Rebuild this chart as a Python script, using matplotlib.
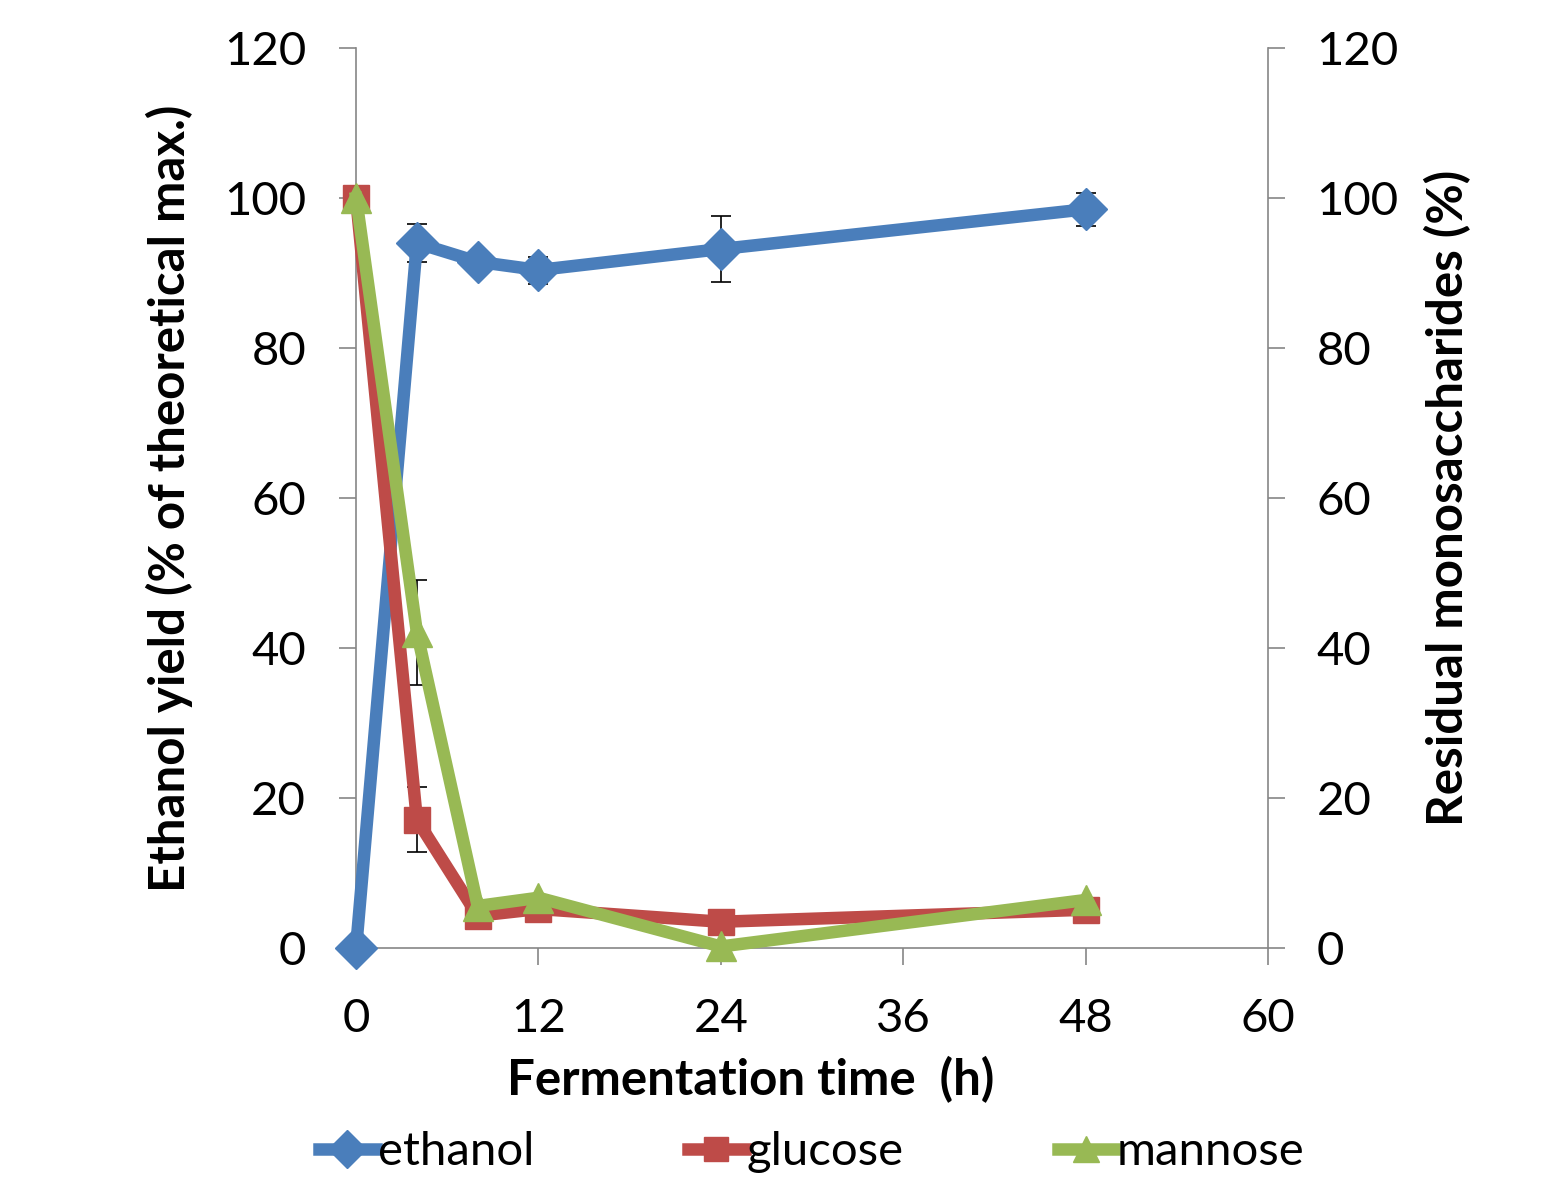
import matplotlib.pyplot as plt

# data
time_h = [0, 4, 8, 12, 24, 48]
ethanol = [0, 94.0, 91.5, 90.4, 93.2, 98.5]
ethanol_err = [0, 2.5, 0, 1.8, 4.4, 2.2]
glucose = [100, 17.1, 4.3, 5.2, 3.5, 5.1]
glucose_err = [0, 4.3, 0, 0, 0, 0]
mannose = [100, 42.1, 5.6, 6.7, 0.2, 6.4]
mannose_err = [0, 7.0, 0, 0, 0, 0]

x_ticks = [0, 12, 24, 36, 48, 60]
y_ticks = [0, 20, 40, 60, 80, 100, 120]

c_eth = '#4A7EBB'
c_glc = '#BE4B48'
c_man = '#98B954'
axis_grey = '#868686'

plt.rcParams['font.family'] = ['Lato', 'DejaVu Sans']
fs = 34
fs_lab = 35.5

fig = plt.figure(figsize=(15.55, 11.89), dpi=100)
ax = fig.add_axes([0.229, 0.2027, 0.5864, 0.7569])

lw = 9
ms = 21
series = [
    (ethanol, ethanol_err, c_eth, 'D', 'ethanol', ms),
    (glucose, glucose_err, c_glc, 's', 'glucose', ms - 2),
    (mannose, mannose_err, c_man, '^', 'mannose', ms),
]
handles = []
for vals, err, col, mk, name, size in series:
    ax.errorbar(time_h, vals, yerr=err, fmt='none', ecolor='black',
                elinewidth=1.2, capsize=7, capthick=1.2, zorder=1, clip_on=False)
    h, = ax.plot(time_h, vals, color=col, lw=lw, marker=mk, markersize=size,
                 label=name, zorder=3, clip_on=False)
    handles.append(h)

ax.set_xlim(0, 60)
ax.set_ylim(0, 120)
ax.set_xticks(x_ticks)
ax.set_yticks(y_ticks)
ax.tick_params(axis='both', labelsize=fs, direction='out', length=12,
               width=1.2, color=axis_grey, pad=24)
ax.tick_params(axis='x', pad=24)

for side in ['left', 'bottom', 'right']:
    ax.spines[side].set_color(axis_grey)
    ax.spines[side].set_linewidth(1.2)
ax.spines['top'].set_visible(False)

ax.set_xlabel('Fermentation time  (h)', fontsize=fs_lab, fontweight='bold')
ax.xaxis.set_label_coords(0.433, -0.12)
ax.set_ylabel('Ethanol yield (% of theoretical max.)', fontsize=fs_lab,
              fontweight='bold')
ax.yaxis.set_label_coords(-0.179, 0.5)

ax2 = ax.twinx()
ax2.set_ylim(0, 120)
ax2.set_yticks(y_ticks)
ax2.tick_params(axis='y', labelsize=fs, direction='out', length=12,
                width=1.2, color=axis_grey, pad=23)
for side in ['left', 'bottom', 'right', 'top']:
    ax2.spines[side].set_visible(False)
ax2.set_ylabel('Residual monosaccharides (%)', fontsize=fs_lab, fontweight='bold')
ax2.yaxis.set_label_coords(1.171, 0.5)

fig.legend(handles=handles, loc='center', bbox_to_anchor=(0.522, 0.031),
           ncol=3, frameon=False, fontsize=fs, handlelength=1.2,
           handletextpad=0.05, columnspacing=3.25, markerscale=0.9)

fig.savefig('out.png', dpi=100, facecolor='white')
